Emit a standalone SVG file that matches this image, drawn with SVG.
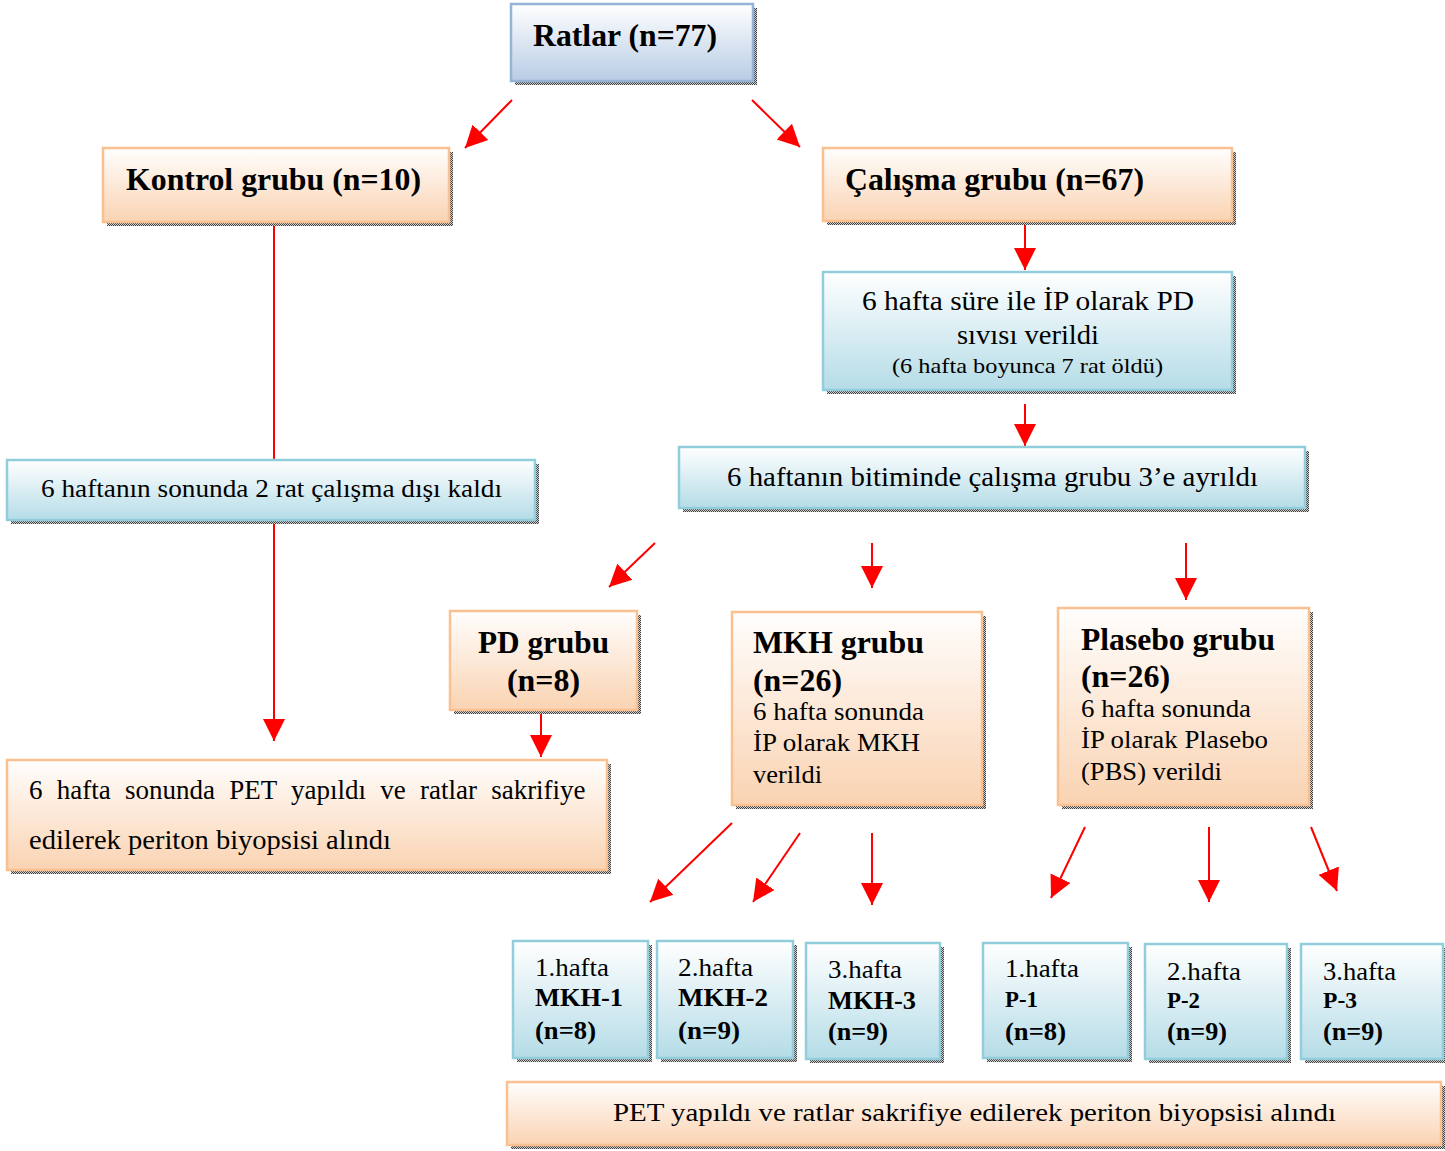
<svg xmlns="http://www.w3.org/2000/svg" width="1445" height="1151" viewBox="0 0 1445 1151">
<style>
.t{font-family:"Liberation Serif","Times New Roman",serif;fill:#000}
.b{font-weight:bold}
.pe{fill:url(#gPeach);stroke:#fac090;stroke-width:2.5}
.bl{fill:url(#gBlue);stroke:#92cddc;stroke-width:2.5}
.rb{fill:url(#gRat);stroke:#95b3d7;stroke-width:2.5}
.sh{fill:url(#hatch)}
.c line{stroke:#ff0000;stroke-width:2}
</style>
<defs>
<linearGradient id="gPeach" x1="0" y1="0" x2="0" y2="1"><stop offset="0" stop-color="#fffefd"/><stop offset="1" stop-color="#fad3b2"/></linearGradient>
<linearGradient id="gBlue" x1="0" y1="0" x2="0" y2="1"><stop offset="0" stop-color="#ffffff"/><stop offset="1" stop-color="#b5dce7"/></linearGradient>
<linearGradient id="gRat" x1="0" y1="0" x2="0" y2="1"><stop offset="0" stop-color="#ffffff"/><stop offset="1" stop-color="#b8cce4"/></linearGradient>
<pattern id="hatch" width="2" height="2" patternUnits="userSpaceOnUse"><rect width="2" height="2" fill="#d0d0d0"/><rect width="1" height="1" fill="#404040"/><rect x="1" y="1" width="1" height="1" fill="#404040"/></pattern>
<marker id="ah" markerUnits="userSpaceOnUse" markerWidth="24" markerHeight="24" viewBox="0 0 24 24" refX="22" refY="12" orient="auto"><path d="M0,1 L22,12 L0,23 Z" fill="#ff0000"/></marker>
</defs>

<g id="connectors" class="c">
<line x1="512" y1="100" x2="465" y2="148" marker-end="url(#ah)"/>
<line x1="752" y1="100" x2="800" y2="147" marker-end="url(#ah)"/>
<line x1="1025" y1="224" x2="1025" y2="270" marker-end="url(#ah)"/>
<line x1="1025" y1="404" x2="1025" y2="446" marker-end="url(#ah)"/>
<line x1="274" y1="224" x2="274" y2="741" marker-end="url(#ah)"/>
<line x1="655" y1="543" x2="609" y2="587" marker-end="url(#ah)"/>
<line x1="872" y1="543" x2="872" y2="588" marker-end="url(#ah)"/>
<line x1="1186" y1="543" x2="1186" y2="600" marker-end="url(#ah)"/>
<line x1="541" y1="710" x2="541" y2="757" marker-end="url(#ah)"/>
<line x1="732" y1="823" x2="650" y2="902" marker-end="url(#ah)"/>
<line x1="800" y1="833" x2="753" y2="902" marker-end="url(#ah)"/>
<line x1="872" y1="833" x2="872" y2="905" marker-end="url(#ah)"/>
<line x1="1085" y1="827" x2="1051" y2="898" marker-end="url(#ah)"/>
<line x1="1209" y1="827" x2="1209" y2="902" marker-end="url(#ah)"/>
<line x1="1311" y1="827" x2="1337" y2="891" marker-end="url(#ah)"/>
</g>

<g id="ratlar">
<rect class="sh" x="515" y="8" width="242" height="77"/>
<rect class="rb" x="511" y="4" width="242" height="77"/>
<text class="t b" x="533" y="46" font-size="32" textLength="184" lengthAdjust="spacingAndGlyphs">Ratlar (n=77)</text>
</g>

<g id="kontrol">
<rect class="sh" x="107" y="152" width="346" height="74"/>
<rect class="pe" x="103" y="148" width="346" height="74"/>
<text class="t b" x="126" y="190" font-size="32" textLength="295" lengthAdjust="spacingAndGlyphs">Kontrol grubu (n=10)</text>
</g>

<g id="calisma">
<rect class="sh" x="827" y="152" width="409" height="73"/>
<rect class="pe" x="823" y="148" width="409" height="73"/>
<text class="t b" x="845" y="190" font-size="32" textLength="299" lengthAdjust="spacingAndGlyphs">Çalışma grubu (n=67)</text>
</g>

<g id="pd-sivisi">
<rect class="sh" x="827" y="276" width="409" height="118"/>
<rect class="bl" x="823" y="272" width="409" height="118"/>
<text class="t" x="862" y="310" font-size="27" textLength="332" lengthAdjust="spacingAndGlyphs">6 hafta süre ile İP olarak PD</text>
<text class="t" x="957" y="344" font-size="27" textLength="142" lengthAdjust="spacingAndGlyphs">sıvısı verildi</text>
<text class="t" x="892" y="373" font-size="22" textLength="271" lengthAdjust="spacingAndGlyphs">(6 hafta boyunca 7 rat öldü)</text>
</g>

<g id="ayrildi">
<rect class="sh" x="683" y="451" width="626" height="61"/>
<rect class="bl" x="679" y="447" width="626" height="61"/>
<text class="t" x="727" y="486" font-size="27" textLength="531" lengthAdjust="spacingAndGlyphs">6 haftanın bitiminde çalışma grubu 3’e ayrıldı</text>
</g>

<g id="disi-kaldi">
<rect class="sh" x="11" y="464" width="528" height="60"/>
<rect class="bl" x="7" y="460" width="528" height="60"/>
<text class="t" x="41" y="497" font-size="26" textLength="461" lengthAdjust="spacingAndGlyphs">6 haftanın sonunda 2 rat çalışma dışı kaldı</text>
</g>

<g id="pd-grubu">
<rect class="sh" x="454" y="615" width="187" height="99"/>
<rect class="pe" x="450" y="611" width="187" height="99"/>
<text class="t b" x="478" y="653" font-size="32" textLength="131" lengthAdjust="spacingAndGlyphs">PD grubu</text>
<text class="t b" x="507" y="691" font-size="32" textLength="73" lengthAdjust="spacingAndGlyphs">(n=8)</text>
</g>

<g id="mkh-grubu">
<rect class="sh" x="736" y="616" width="250" height="193"/>
<rect class="pe" x="732" y="612" width="250" height="193"/>
<text class="t b" x="753" y="653" font-size="32" textLength="171" lengthAdjust="spacingAndGlyphs">MKH grubu</text>
<text class="t b" x="753" y="691" font-size="32" textLength="89" lengthAdjust="spacingAndGlyphs">(n=26)</text>
<text class="t" x="753" y="720" font-size="25" textLength="171" lengthAdjust="spacingAndGlyphs">6 hafta sonunda</text>
<text class="t" x="753" y="751" font-size="25" textLength="167" lengthAdjust="spacingAndGlyphs">İP olarak MKH</text>
<text class="t" x="753" y="783" font-size="25" textLength="69" lengthAdjust="spacingAndGlyphs">verildi</text>
</g>

<g id="plasebo-grubu">
<rect class="sh" x="1062" y="612" width="251" height="197"/>
<rect class="pe" x="1058" y="608" width="251" height="197"/>
<text class="t b" x="1081" y="650" font-size="32" textLength="194" lengthAdjust="spacingAndGlyphs">Plasebo grubu</text>
<text class="t b" x="1081" y="687" font-size="32" textLength="89" lengthAdjust="spacingAndGlyphs">(n=26)</text>
<text class="t" x="1081" y="717" font-size="25" textLength="170" lengthAdjust="spacingAndGlyphs">6 hafta sonunda</text>
<text class="t" x="1081" y="748" font-size="25" textLength="187" lengthAdjust="spacingAndGlyphs">İP olarak Plasebo</text>
<text class="t" x="1081" y="780" font-size="25" textLength="141" lengthAdjust="spacingAndGlyphs">(PBS) verildi</text>
</g>

<g id="kontrol-pet">
<rect class="sh" x="11" y="764" width="600" height="110"/>
<rect class="pe" x="7" y="760" width="600" height="110"/>
<text class="t" x="29" y="799" font-size="27" word-spacing="7.5">6 hafta sonunda PET yapıldı ve ratlar sakrifiye</text>
<text class="t" x="29" y="849" font-size="27" textLength="362" lengthAdjust="spacingAndGlyphs">edilerek periton biyopsisi alındı</text>
</g>

<g id="mkh-1">
<rect class="sh" x="517" y="945" width="135" height="117"/>
<rect class="bl" x="513" y="941" width="135" height="117"/>
<text class="t" x="535" y="976" font-size="25" textLength="74" lengthAdjust="spacingAndGlyphs">1.hafta</text>
<text class="t b" x="535" y="1006" font-size="25" textLength="88" lengthAdjust="spacingAndGlyphs">MKH-1</text>
<text class="t b" x="535" y="1039" font-size="25" textLength="61" lengthAdjust="spacingAndGlyphs">(n=8)</text>
</g>

<g id="mkh-2">
<rect class="sh" x="661" y="945" width="136" height="117"/>
<rect class="bl" x="657" y="941" width="136" height="117"/>
<text class="t" x="678" y="976" font-size="25" textLength="75" lengthAdjust="spacingAndGlyphs">2.hafta</text>
<text class="t b" x="678" y="1006" font-size="25" textLength="90" lengthAdjust="spacingAndGlyphs">MKH-2</text>
<text class="t b" x="678" y="1039" font-size="25" textLength="62" lengthAdjust="spacingAndGlyphs">(n=9)</text>
</g>

<g id="mkh-3">
<rect class="sh" x="810" y="947" width="134" height="116"/>
<rect class="bl" x="806" y="943" width="134" height="116"/>
<text class="t" x="828" y="978" font-size="25" textLength="74" lengthAdjust="spacingAndGlyphs">3.hafta</text>
<text class="t b" x="828" y="1009" font-size="25" textLength="88" lengthAdjust="spacingAndGlyphs">MKH-3</text>
<text class="t b" x="828" y="1040" font-size="25" textLength="60" lengthAdjust="spacingAndGlyphs">(n=9)</text>
</g>

<g id="p-1">
<rect class="sh" x="987" y="947" width="145" height="115"/>
<rect class="bl" x="983" y="943" width="145" height="115"/>
<text class="t" x="1005" y="977" font-size="25" textLength="74" lengthAdjust="spacingAndGlyphs">1.hafta</text>
<text class="t b" x="1005" y="1007" font-size="23" textLength="33" lengthAdjust="spacingAndGlyphs">P-1</text>
<text class="t b" x="1005" y="1040" font-size="25" textLength="61" lengthAdjust="spacingAndGlyphs">(n=8)</text>
</g>

<g id="p-2">
<rect class="sh" x="1149" y="948" width="142" height="115"/>
<rect class="bl" x="1145" y="944" width="142" height="115"/>
<text class="t" x="1167" y="980" font-size="25" textLength="74" lengthAdjust="spacingAndGlyphs">2.hafta</text>
<text class="t b" x="1167" y="1008" font-size="23" textLength="33" lengthAdjust="spacingAndGlyphs">P-2</text>
<text class="t b" x="1167" y="1040" font-size="25" textLength="60" lengthAdjust="spacingAndGlyphs">(n=9)</text>
</g>

<g id="p-3">
<rect class="sh" x="1305" y="948" width="140" height="115"/>
<rect class="bl" x="1301" y="944" width="142" height="115"/>
<text class="t" x="1323" y="980" font-size="25" textLength="73" lengthAdjust="spacingAndGlyphs">3.hafta</text>
<text class="t b" x="1323" y="1008" font-size="23" textLength="34" lengthAdjust="spacingAndGlyphs">P-3</text>
<text class="t b" x="1323" y="1040" font-size="25" textLength="60" lengthAdjust="spacingAndGlyphs">(n=9)</text>
</g>

<g id="final-pet">
<rect class="sh" x="511" y="1086" width="934" height="63"/>
<rect class="pe" x="507" y="1082" width="934" height="63"/>
<text class="t" x="613" y="1121" font-size="26" textLength="723" lengthAdjust="spacingAndGlyphs">PET yapıldı ve ratlar sakrifiye edilerek periton biyopsisi alındı</text>
</g>
</svg>
